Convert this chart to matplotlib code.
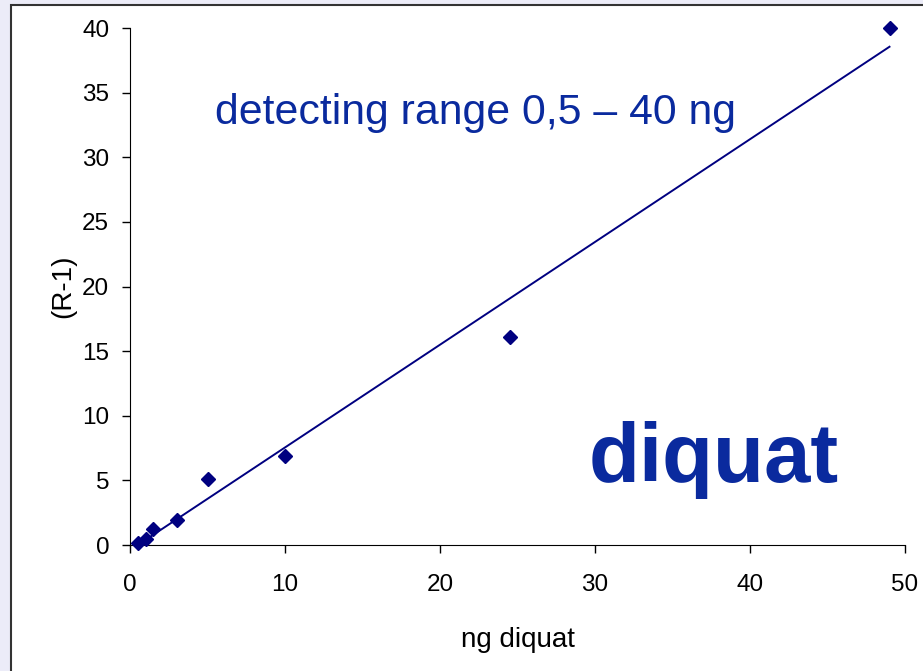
import numpy as np
import matplotlib
matplotlib.use("Agg")
import matplotlib.pyplot as plt
from matplotlib.patches import Rectangle

# measured points (ng diquat vs R-1)
ng_diquat = [0.5, 1.0, 1.5, 3.0, 5.0, 10.0, 24.5, 49.0]
r_minus_1 = [0.15, 0.5, 1.25, 1.9, 5.1, 6.9, 16.1, 40.0]

navy = "#000080"
text_blue = "#0a2a9e"

plt.rcParams["font.family"] = ["Liberation Sans", "DejaVu Sans"]

fig = plt.figure(figsize=(9.23, 6.71), dpi=100, facecolor="#ececf8")
# white panel with dark frame, like the slide box
fig.patches.append(Rectangle((11 / 923, -0.05), 1.1, 1.05 - 5 / 671,
                             transform=fig.transFigure, facecolor="white",
                             edgecolor="#333333", linewidth=1.5, zorder=-10))

ax = fig.add_axes([130 / 923, 126 / 671, 775 / 923, 517 / 671])
ax.set_facecolor("none")
ax.set_zorder(5)

# linear trendline fitted to the points
slope, icpt = np.polyfit(ng_diquat, r_minus_1, 1)
xs = np.array([min(ng_diquat), max(ng_diquat)])
ax.plot(xs, slope * xs + icpt, color=navy, lw=1.4, zorder=2)
ax.plot(ng_diquat, r_minus_1, "D", color=navy, markersize=7.5, clip_on=False, zorder=3)

ax.set_xlim(0, 50)
ax.set_ylim(0, 40)
ax.set_xticks(range(0, 51, 10))
ax.set_yticks(range(0, 41, 5))
for s in ["top", "right"]:
    ax.spines[s].set_visible(False)
ax.tick_params(direction="out", length=6, width=1, labelsize=17.5)
ax.tick_params(axis="x", pad=15)
ax.tick_params(axis="y", pad=9)

ax.set_xlabel("ng diquat", fontsize=20, labelpad=22)
ax.set_ylabel("(R-1)", fontsize=20, labelpad=4)

ax.text(5.5, 32.6, "detecting range 0,5 \u2013 40 ng", color=text_blue,
        fontsize=30.8, va="baseline", ha="left")
ax.text(29.6, 4.9, "diquat", color=text_blue, fontsize=60,
        fontweight="bold", va="baseline", ha="left")

fig.savefig("out.png", dpi=100, facecolor=fig.get_facecolor())
